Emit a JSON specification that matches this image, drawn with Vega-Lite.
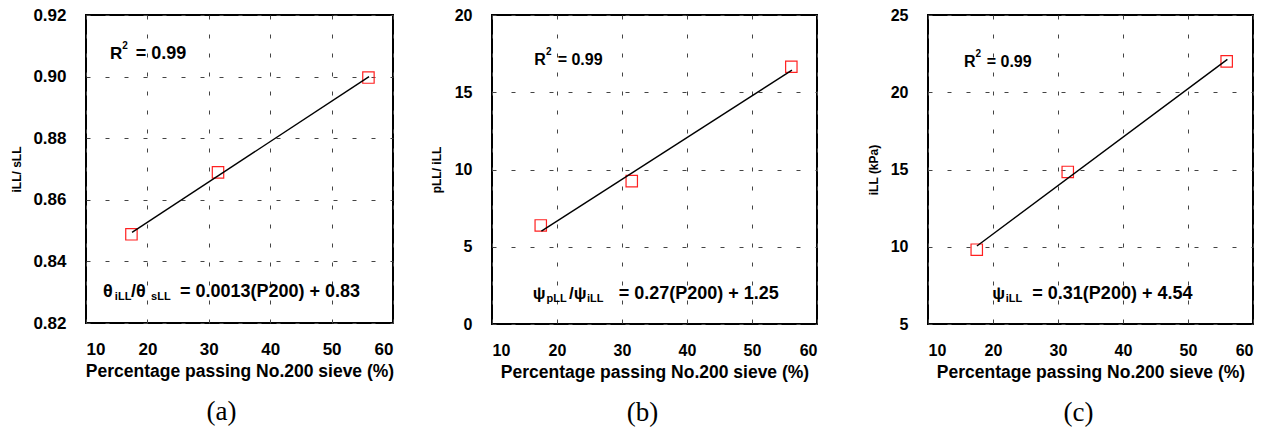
{
  "$schema": "https://vega.github.io/schema/vega-lite/v6.json",
  "background": "white",
  "padding": {"left": 9, "top": 5, "right": 5, "bottom": 5},
  "spacing": 34,
  "config": {
    "view": {"stroke": "black", "strokeWidth": 2},
    "font": "Liberation Sans",
    "axis": {
      "domain": false, "ticks": false, "grid": true,
      "gridColor": "#444", "gridDash": [4, 15], "gridWidth": 1,
      "labelFont": "Liberation Sans", "labelFontWeight": "bold", "labelFontSize": 16, "labelColor": "black",
      "titleFont": "Liberation Sans", "titleFontWeight": "bold", "titleColor": "black"
    },
    "axisX": {"labelPadding": 18, "titleFontSize": 17.5, "titlePadding": 5},
    "axisY": {"labelPadding": 20, "titleFontSize": 12, "titlePadding": 10},
    "title": {"font": "Liberation Serif", "fontSize": 27, "fontWeight": "normal", "orient": "bottom", "color": "black", "offset": 19}
  },
  "hconcat": [
    {
      "width": 307, "height": 308,
      "title": {"text": "(a)", "dx": -18},
      "layer": [
        {
          "data": {"values": [{"p200": 17.4, "ratio": 0.8488}, {"p200": 31.5, "ratio": 0.8689}, {"p200": 56.0, "ratio": 0.8997}]},
          "mark": {"type": "point", "shape": "square", "filled": false, "color": "#ff2020", "size": 130, "strokeWidth": 1.2, "opacity": 1},
          "encoding": {
            "x": {"field": "p200", "type": "quantitative", "scale": {"domain": [10, 60], "nice": false, "zero": false},
                  "axis": {"values": [10, 20, 30, 40, 50, 60], "labelFontSize": 17, "title": "Percentage passing No.200 sieve (%)"}},
            "y": {"field": "ratio", "type": "quantitative", "scale": {"domain": [0.82, 0.92], "nice": false, "zero": false},
                  "axis": {"values": [0.82, 0.84, 0.86, 0.88, 0.9, 0.92], "format": ".2f", "labelFontSize": 17, "title": "iLL/     sLL", "titlePadding": 9}}
          }
        },
        {
          "data": {"values": [{"p200": 17.5, "ratio": 0.8494}, {"p200": 56.1, "ratio": 0.9}]},
          "mark": {"type": "line", "color": "black", "strokeWidth": 1.4},
          "encoding": {"x": {"field": "p200", "type": "quantitative"}, "y": {"field": "ratio", "type": "quantitative"}}
        },
        {"data": {"values": [{}]}, "mark": {"type": "text", "text": "R", "align": "left", "baseline": "alphabetic", "fontSize": 17, "fontWeight": "bold", "color": "black"},
         "encoding": {"x": {"datum": 13.9}, "y": {"datum": 0.9057}}},
        {"data": {"values": [{}]}, "mark": {"type": "text", "text": "2", "align": "left", "baseline": "alphabetic", "fontSize": 10, "fontWeight": "bold", "color": "black"},
         "encoding": {"x": {"datum": 15.9}, "y": {"datum": 0.909}}},
        {"data": {"values": [{}]}, "mark": {"type": "text", "text": "= 0.99", "align": "left", "baseline": "alphabetic", "fontSize": 18, "fontWeight": "bold", "color": "black"},
         "encoding": {"x": {"datum": 18.1}, "y": {"datum": 0.9057}}},
        {"data": {"values": [{}]}, "mark": {"type": "text", "text": "θ", "align": "left", "baseline": "alphabetic", "fontSize": 18, "fontWeight": "bold", "color": "black"},
         "encoding": {"x": {"datum": 12.77}, "y": {"datum": 0.8284}}},
        {"data": {"values": [{}]}, "mark": {"type": "text", "text": "iLL", "align": "left", "baseline": "alphabetic", "fontSize": 11, "fontWeight": "bold", "color": "black"},
         "encoding": {"x": {"datum": 14.7}, "y": {"datum": 0.8275}}},
        {"data": {"values": [{}]}, "mark": {"type": "text", "text": "/θ", "align": "left", "baseline": "alphabetic", "fontSize": 18, "fontWeight": "bold", "color": "black"},
         "encoding": {"x": {"datum": 17.33}, "y": {"datum": 0.8284}}},
        {"data": {"values": [{}]}, "mark": {"type": "text", "text": "sLL", "align": "left", "baseline": "alphabetic", "fontSize": 11, "fontWeight": "bold", "color": "black"},
         "encoding": {"x": {"datum": 20.6}, "y": {"datum": 0.8275}}},
        {"data": {"values": [{}]}, "mark": {"type": "text", "text": "= 0.0013(P200)  + 0.83", "align": "left", "baseline": "alphabetic", "fontSize": 18, "fontWeight": "bold", "color": "black"},
         "encoding": {"x": {"datum": 25.3}, "y": {"datum": 0.8284}}}
      ]
    },
    {
      "spacing": 48,
      "hconcat": [
        {
          "width": 325, "height": 309,
          "title": {"text": "(b)", "dx": -12},
          "layer": [
            {
              "data": {"values": [{"p200": 17.5, "ratio": 6.38}, {"p200": 31.5, "ratio": 9.25}, {"p200": 56.05, "ratio": 16.65}]},
              "mark": {"type": "point", "shape": "square", "filled": false, "color": "#ff2020", "size": 130, "strokeWidth": 1.2, "opacity": 1},
              "encoding": {
                "x": {"field": "p200", "type": "quantitative", "scale": {"domain": [10, 60], "nice": false, "zero": false},
                      "axis": {"values": [10, 20, 30, 40, 50, 60], "title": "Percentage passing No.200 sieve (%)"}},
                "y": {"field": "ratio", "type": "quantitative", "scale": {"domain": [0, 20], "nice": false, "zero": false},
                      "axis": {"values": [0, 5, 10, 15, 20], "title": "pLL/     iLL", "titlePadding": 11}}
              }
            },
            {
              "data": {"values": [{"p200": 17.6, "ratio": 6.01}, {"p200": 56.15, "ratio": 16.43}]},
              "mark": {"type": "line", "color": "black", "strokeWidth": 1.4},
              "encoding": {"x": {"field": "p200", "type": "quantitative"}, "y": {"field": "ratio", "type": "quantitative"}}
            },
            {"data": {"values": [{}]}, "mark": {"type": "text", "text": "R", "align": "left", "baseline": "alphabetic", "fontSize": 16, "fontWeight": "bold", "color": "black"},
             "encoding": {"x": {"datum": 16.5}, "y": {"datum": 16.74}}},
            {"data": {"values": [{}]}, "mark": {"type": "text", "text": "2", "align": "left", "baseline": "alphabetic", "fontSize": 10, "fontWeight": "bold", "color": "black"},
             "encoding": {"x": {"datum": 18.3}, "y": {"datum": 17.4}}},
            {"data": {"values": [{}]}, "mark": {"type": "text", "text": "= 0.99", "align": "left", "baseline": "alphabetic", "fontSize": 16, "fontWeight": "bold", "color": "black"},
             "encoding": {"x": {"datum": 20.1}, "y": {"datum": 16.74}}},
            {"data": {"values": [{}]}, "mark": {"type": "text", "text": "ψ", "align": "left", "baseline": "alphabetic", "fontSize": 17, "fontWeight": "bold", "color": "black"},
             "encoding": {"x": {"datum": 16.26}, "y": {"datum": 1.64}}},
            {"data": {"values": [{}]}, "mark": {"type": "text", "text": "pLL", "align": "left", "baseline": "alphabetic", "fontSize": 11, "fontWeight": "bold", "color": "black"},
             "encoding": {"x": {"datum": 18.4}, "y": {"datum": 1.42}}},
            {"data": {"values": [{}]}, "mark": {"type": "text", "text": "/ψ", "align": "left", "baseline": "alphabetic", "fontSize": 17, "fontWeight": "bold", "color": "black"},
             "encoding": {"x": {"datum": 21.85}, "y": {"datum": 1.64}}},
            {"data": {"values": [{}]}, "mark": {"type": "text", "text": "iLL", "align": "left", "baseline": "alphabetic", "fontSize": 11, "fontWeight": "bold", "color": "black"},
             "encoding": {"x": {"datum": 24.6}, "y": {"datum": 1.42}}},
            {"data": {"values": [{}]}, "mark": {"type": "text", "text": "= 0.27(P200)  + 1.25", "align": "left", "baseline": "alphabetic", "fontSize": 18, "fontWeight": "bold", "color": "black"},
             "encoding": {"x": {"datum": 29.5}, "y": {"datum": 1.64}}}
          ]
        },
        {
          "width": 325, "height": 309,
          "title": {"text": "(c)", "dx": -12},
          "layer": [
            {
              "data": {"values": [{"p200": 17.5, "kpa": 9.81}, {"p200": 31.5, "kpa": 14.84}, {"p200": 55.95, "kpa": 22.0}]},
              "mark": {"type": "point", "shape": "square", "filled": false, "color": "#ff2020", "size": 130, "strokeWidth": 1.2, "opacity": 1},
              "encoding": {
                "x": {"field": "p200", "type": "quantitative", "scale": {"domain": [10, 60], "nice": false, "zero": false},
                      "axis": {"values": [10, 20, 30, 40, 50, 60], "title": "Percentage passing No.200 sieve (%)"}},
                "y": {"field": "kpa", "type": "quantitative", "scale": {"domain": [5, 25], "nice": false, "zero": false},
                      "axis": {"values": [5, 10, 15, 20, 25], "title": "iLL (kPa)", "titlePadding": 10}}
              }
            },
            {
              "data": {"values": [{"p200": 17.53, "kpa": 10.05}, {"p200": 56.06, "kpa": 22.13}]},
              "mark": {"type": "line", "color": "black", "strokeWidth": 1.4},
              "encoding": {"x": {"field": "p200", "type": "quantitative"}, "y": {"field": "kpa", "type": "quantitative"}}
            },
            {"data": {"values": [{}]}, "mark": {"type": "text", "text": "R", "align": "left", "baseline": "alphabetic", "fontSize": 16, "fontWeight": "bold", "color": "black"},
             "encoding": {"x": {"datum": 15.54}, "y": {"datum": 21.63}}},
            {"data": {"values": [{}]}, "mark": {"type": "text", "text": "2", "align": "left", "baseline": "alphabetic", "fontSize": 10, "fontWeight": "bold", "color": "black"},
             "encoding": {"x": {"datum": 17.3}, "y": {"datum": 22.3}}},
            {"data": {"values": [{}]}, "mark": {"type": "text", "text": "= 0.99", "align": "left", "baseline": "alphabetic", "fontSize": 16, "fontWeight": "bold", "color": "black"},
             "encoding": {"x": {"datum": 19.03}, "y": {"datum": 21.63}}},
            {"data": {"values": [{}]}, "mark": {"type": "text", "text": "ψ", "align": "left", "baseline": "alphabetic", "fontSize": 17, "fontWeight": "bold", "color": "black"},
             "encoding": {"x": {"datum": 19.9}, "y": {"datum": 6.64}}},
            {"data": {"values": [{}]}, "mark": {"type": "text", "text": "iLL", "align": "left", "baseline": "alphabetic", "fontSize": 11, "fontWeight": "bold", "color": "black"},
             "encoding": {"x": {"datum": 21.95}, "y": {"datum": 6.42}}},
            {"data": {"values": [{}]}, "mark": {"type": "text", "text": "= 0.31(P200)  + 4.54", "align": "left", "baseline": "alphabetic", "fontSize": 18, "fontWeight": "bold", "color": "black"},
             "encoding": {"x": {"datum": 26.05}, "y": {"datum": 6.64}}}
          ]
        }
      ]
    }
  ]
}
